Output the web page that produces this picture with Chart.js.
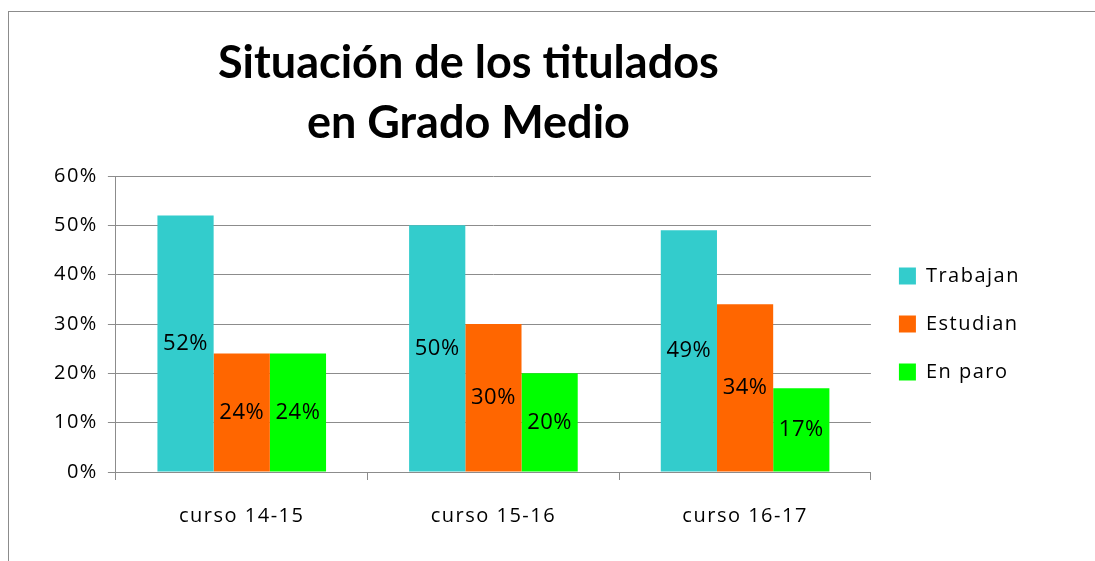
<!DOCTYPE html>
<html>
<head>
<meta charset="utf-8">
<script src="https://cdn.jsdelivr.net/npm/chart.js@4.4.1/dist/chart.umd.min.js"></script>
<style>
  html, body { margin: 0; padding: 0; background: #fff; }
  #frame {
    position: absolute; left: 8px; top: 11px; width: 1087px; height: 550px;
    border-left: 1px solid #8c8c8c; border-top: 1px solid #8c8c8c;
  }
  #wrap { position: absolute; left: 0; top: 0; width: 1087px; height: 550px; }
</style>
</head>
<body>
<div id="frame"><div id="wrap"><canvas id="bar-chart"></canvas></div></div>
<script>
const categories = ['curso 14-15', 'curso 15-16', 'curso 16-17'];
const trabajan = [52, 50, 49];
const estudian = [24, 30, 34];
const enParo = [24, 20, 17];
const titleLines = ['Situación de los titulados', 'en Grado Medio'];

const FONT = "'Open Sans', sans-serif";

// spacing like the original Calibri rendering
const spacing = {
  id: 'spacing',
  beforeLayout(chart) { chart.ctx.letterSpacing = '1.5px'; },
  beforeDraw(chart) { chart.ctx.letterSpacing = '1.5px'; }
};

// two line title, centred a bit left of the plot
const titleText = {
  id: 'titleText',
  afterDraw(chart) {
    const ctx = chart.ctx;
    ctx.save();
    ctx.letterSpacing = '0px';
    ctx.font = "bold 45px Lato, sans-serif";
    ctx.fillStyle = '#000';
    ctx.textAlign = 'center';
    ctx.textBaseline = 'middle';
    const cx = (chart.chartArea.left + chart.chartArea.right) / 2 - 25;
    ctx.fillText(titleLines[0], cx, 51);
    ctx.fillText(titleLines[1], cx, 111);
    ctx.restore();
  }
};

// values in the middle of each bar
const barLabels = {
  id: 'barLabels',
  afterDatasetsDraw(chart) {
    const ctx = chart.ctx;
    ctx.save();
    ctx.font = "22px " + FONT;
    ctx.letterSpacing = '0.5px';
    ctx.fillStyle = '#000';
    ctx.textAlign = 'center';
    ctx.textBaseline = 'middle';
    chart.data.datasets.forEach((ds, i) => {
      chart.getDatasetMeta(i).data.forEach((bar, j) => {
        ctx.fillText(ds.data[j] + '%', bar.x, (bar.y + bar.base) / 2);
      });
    });
    ctx.restore();
  }
};

new Chart(document.getElementById('bar-chart'), {
  type: 'bar',
  data: {
    labels: categories,
    datasets: [
      { label: 'Trabajan', data: trabajan, backgroundColor: '#33CCCC' },
      { label: 'Estudian', data: estudian, backgroundColor: '#FF6600' },
      { label: 'En paro', data: enParo, backgroundColor: '#00FF00' }
    ]
  },
  options: {
    responsive: true,
    maintainAspectRatio: false,
    animation: false,
    events: [],
    datasets: { bar: { categoryPercentage: 0.67, barPercentage: 1.0 } },
    layout: { padding: { top: 164, right: 66, bottom: 10, left: 35 } },
    plugins: {
      title: { display: false },
      tooltip: { enabled: false },
      legend: {
        position: 'right',
        fullSize: false,
        labels: {
          font: { family: FONT, size: 20 },
          color: '#000',
          boxWidth: 17,
          boxHeight: 17,
          padding: 28
        }
      }
    },
    scales: {
      x: {
        grid: { display: true, drawOnChartArea: false, color: '#8c8c8c', tickLength: 8 },
        border: { color: '#8c8c8c' },
        ticks: { font: { family: FONT, size: 20 }, color: '#000', padding: 24 }
      },
      y: {
        min: 0,
        max: 60,
        grid: { color: '#8c8c8c', tickLength: 8 },
        border: { color: '#8c8c8c' },
        ticks: {
          stepSize: 10,
          font: { family: FONT, size: 20 },
          color: '#000',
          padding: 10,
          callback: v => v + '%'
        }
      }
    }
  },
  plugins: [spacing, titleText, barLabels]
});
</script>
</body>
</html>
